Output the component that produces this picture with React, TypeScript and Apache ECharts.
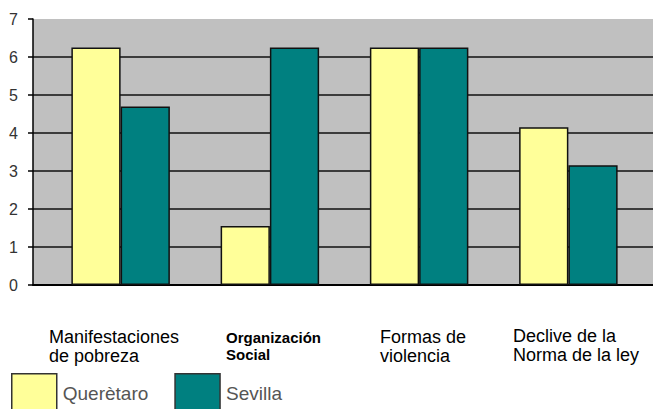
import React, { useEffect, useRef } from "react";
import * as echarts from "echarts";

const categories = [
  "Manifestaciones\nde pobreza",
  "Organización\nSocial",
  "Formas de\nviolencia",
  "Declive de la\nNorma de la ley",
];
const queretaro = [6.25, 1.55, 6.25, 4.15];
const sevilla = [4.7, 6.25, 6.25, 3.15];
const seriesNames = ["Querètaro", "Sevilla"];
const yMin = 0;
const yMax = 7;
const yInterval = 1;

const FONT = "Liberation Sans";

// label placement (layout, not data)
const labelLayout = [
  { x: 49, y: 327, size: 18, weight: "normal", lh: 19 },
  { x: 226, y: 329, size: 15, weight: "bold", lh: 17 },
  { x: 380, y: 327, size: 18, weight: "normal", lh: 19 },
  { x: 513, y: 326, size: 18, weight: "normal", lh: 19 },
];

export default function App() {
  const ref = useRef<HTMLDivElement>(null);
  useEffect(() => {
    if (!ref.current) return;
    const chart = echarts.init(ref.current, undefined, { renderer: "svg" });
    chart.setOption({
      animation: false,
      textStyle: { fontFamily: FONT },
      grid: [
        {
          left: 33,
          right: 0,
          top: 19,
          height: 266,
          show: true,
          backgroundColor: "#c0c0c0",
          borderWidth: 0,
        },
        { left: 46, width: 597, top: 19, height: 266 },
      ],
      xAxis: [
        {
          gridIndex: 0,
          type: "value",
          position: "top",
          axisLine: { show: true, lineStyle: { color: "#a8a8a8", width: 1 } },
          axisTick: { show: false },
          axisLabel: { show: false },
          splitLine: { show: false },
        },
        {
          gridIndex: 0,
          type: "value",
          position: "bottom",
          axisLine: { show: true, onZero: false, lineStyle: { color: "#000", width: 2 } },
          axisTick: { show: false },
          axisLabel: { show: false },
          splitLine: { show: false },
        },
        {
          gridIndex: 1,
          type: "category",
          data: categories,
          show: false,
        },
      ],
      yAxis: [
        {
          gridIndex: 0,
          type: "value",
          min: yMin,
          max: yMax,
          interval: yInterval,
          axisLine: { show: true, lineStyle: { color: "#000", width: 1.5 } },
          axisTick: { show: true, length: 5, lineStyle: { color: "#000", width: 1.5 } },
          axisLabel: { fontSize: 16, color: "#333", margin: 15, fontFamily: FONT },
          splitLine: {
            show: true,
            showMaxLine: false,
            lineStyle: { color: "#111", width: 1.5 },
          },
        },
        {
          gridIndex: 1,
          type: "value",
          min: yMin,
          max: yMax,
          interval: yInterval,
          show: false,
          splitLine: { show: false },
        },
      ],
      legend: {
        left: 11,
        top: 373,
        padding: 0,
        itemWidth: 45,
        itemHeight: 40,
        itemGap: 26,
        icon: "rect",
        textStyle: { fontSize: 19, color: "#555", fontFamily: FONT, padding: [0, 0, 0, 1] },
        itemStyle: { borderColor: "#333", borderWidth: 1.5 },
        data: seriesNames,
      },
      series: [
        {
          name: seriesNames[0],
          type: "bar",
          xAxisIndex: 2,
          yAxisIndex: 1,
          data: queretaro,
          barGap: "0%",
          barCategoryGap: "34%",
          itemStyle: { color: "#ffff99", borderColor: "#111", borderWidth: 1.5 },
        },
        {
          name: seriesNames[1],
          type: "bar",
          xAxisIndex: 2,
          yAxisIndex: 1,
          data: sevilla,
          barGap: "0%",
          barCategoryGap: "34%",
          itemStyle: { color: "#008080", borderColor: "#111", borderWidth: 1.5 },
        },
      ],
      graphic: categories.map((c, i) => ({
        type: "text",
        left: labelLayout[i].x,
        top: labelLayout[i].y,
        style: {
          text: c,
          fontFamily: FONT,
          fontSize: labelLayout[i].size,
          fontWeight: labelLayout[i].weight,
          lineHeight: labelLayout[i].lh,
          fill: "#000",
          align: "left",
        },
      })),
    });
    return () => chart.dispose();
  }, []);
  return <div ref={ref} style={{ width: 653, height: 409, position: "absolute", left: 0, top: 0 }} />;
}
